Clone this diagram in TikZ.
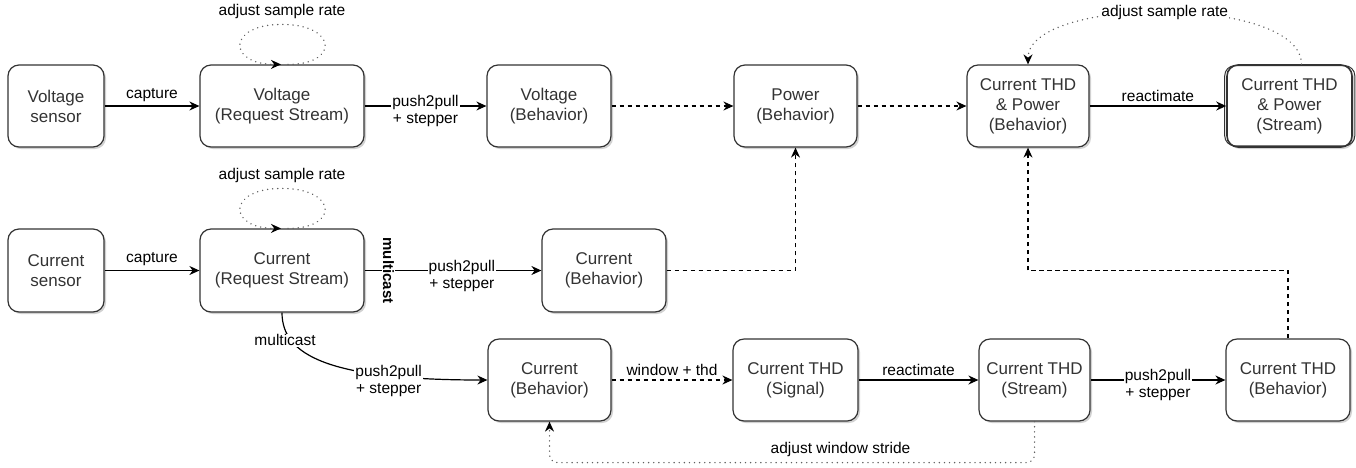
\documentclass[tikz,border=0pt]{standalone}
\usepackage{fontspec}
\setmainfont{Liberation Sans}
\usepackage{xcolor}
\usetikzlibrary{arrows.meta,positioning,shadows,calc}
\definecolor{boxline}{HTML}{333333}
\definecolor{boxtext}{HTML}{333333}
\definecolor{dotgray}{HTML}{606060}
\tikzset{
  blk/.style={draw=boxline,fill=white,rounded corners=11pt,line width=1.2pt,
              minimum width=124pt,minimum height=82pt,align=center,text=boxtext,
              font=\fontsize{17}{20}\selectfont,inner sep=2pt,
              drop shadow={shadow xshift=2pt,shadow yshift=-2pt,opacity=0.18,fill=black}},
  labl/.style={font=\fontsize{15.5}{17}\selectfont,inner sep=1pt,align=center,text=black},
  flow/.style={-{Stealth[length=10pt,width=9pt]},line width=1.2pt},
  dflow/.style={flow,dash pattern=on 4.5pt off 3.5pt},
  dotflow/.style={-{Stealth[length=10pt,width=9pt,color=black]},line width=1.5pt,dotgray,
                  dash pattern=on 0.1pt off 5pt,line cap=round}
}

\begin{document}
\begin{tikzpicture}[x=1pt,y=1pt]
  \useasboundingbox (0,0) rectangle (1356,-467);

  \node[blk,minimum width=96pt] (vs) at (56,-106) {Voltage\\sensor};
  \node[blk,minimum width=164pt] (vRS) at (282,-106) {Voltage\\(Request Stream)};
  \node[blk] (vB) at (549,-106) {Voltage\\(Behavior)};
  \node[blk,minimum width=123pt] (pwr) at (795.5,-106) {Power\\(Behavior)};
  \node[blk,minimum width=122pt] (thdPB) at (1028,-106) {Current THD\\\& Power\\(Behavior)};
  \node[blk,minimum width=125pt,line width=1.6pt] (thdPS) at (1289.5,-106) {Current THD\\\& Power\\(Stream)};
  \draw[boxline,line width=1pt,rounded corners=10pt]
    ([shift={(-1.5pt,2pt)}]thdPS.south west) rectangle ([shift={(2pt,-1.5pt)}]thdPS.north east);

  \node[blk,minimum width=96pt,minimum height=83pt] (cs) at (56,-270.5) {Current\\sensor};
  \node[blk,minimum width=164pt,minimum height=83pt] (cRS) at (282,-270.5) {Current\\(Request Stream)};
  \node[blk,minimum height=83pt] (cB1) at (604,-270.5) {Current\\(Behavior)};

  \node[blk,minimum width=123pt] (cB2) at (549.5,-380) {Current\\(Behavior)};
  \node[blk,minimum width=125pt] (thdSig) at (795.5,-380) {Current THD\\(Signal)};
  \node[blk,minimum width=111pt] (thdS) at (1034.5,-380) {Current THD\\(Stream)};
  \node[blk] (thdB) at (1288,-380) {Current THD\\(Behavior)};

  \draw[flow] (vs) -- node[labl,above=3pt]{capture} (vRS);
  \draw[flow] (vRS) -- node[labl,fill=white,yshift=-5pt]{push2pull\\+ stepper} (vB);
  \draw[dflow] (vB) -- (pwr);
  \draw[dflow] (pwr) -- (thdPB);
  \draw[flow] (thdPB) -- node[labl,above=3pt]{reactimate} (thdPS);

  \draw[dotflow] ([xshift=6pt]vRS.north) .. controls +(52,0) and +(55,0) .. ([yshift=40pt]vRS.north)
    .. controls +(-55,0) and +(-54,0) .. ([xshift=-1pt]vRS.north);
  \node[labl,above=44pt of vRS.north] (vRate) {adjust sample rate};
  \draw[dotflow] ([xshift=6pt]cRS.north) .. controls +(52,0) and +(55,0) .. ([yshift=40pt]cRS.north)
    .. controls +(-55,0) and +(-54,0) .. ([xshift=-1pt]cRS.north);
  \node[labl,above=44pt of cRS.north] (cRate) {adjust sample rate};

  \draw[dotflow] ([xshift=12pt]thdPS.north) .. controls +(0,69) and +(0,69) .. (thdPB.north)
    node[labl,fill=white,pos=0.5]{adjust sample rate};

  \draw[flow] (cs) -- node[labl,above=3pt]{capture} (cRS);
  \draw[flow] (cRS) -- node[pos=0.135,labl,fill=white,rotate=-90,font=\fontsize{15}{17}\selectfont\bfseries]{multicast}
    node[pos=0.55,labl,fill=white,yshift=-5pt]{push2pull\\+ stepper} (cB1);
  \draw[dflow] (cB1) -| (pwr);

  \draw[flow] (cRS.south) .. controls +(0,-43) and +(-158,0) .. (cB2.west)
    node[pos=0.24,labl,fill=white,xshift=-6pt]{multicast}
    node[pos=0.75,labl,fill=white,yshift=-5pt]{push2pull\\+ stepper};
  \draw[dflow] (cB2) -- node[labl,above=3pt]{window + thd} (thdSig);
  \draw[flow] (thdSig) -- node[labl,above=3pt]{reactimate} (thdS);
  \draw[flow] (thdS) -- node[labl,fill=white,yshift=-5pt]{push2pull\\+ stepper} (thdB);
  \draw[dflow] (thdB) -- (thdB |- cB1) -| (thdPB);

  \draw[dotflow,rounded corners=8pt] (thdS.south) -- ++(0,-41)
    -| node[pos=0.2,labl,above=4pt]{adjust window stride} (cB2.south);
\end{tikzpicture}
\end{document}
